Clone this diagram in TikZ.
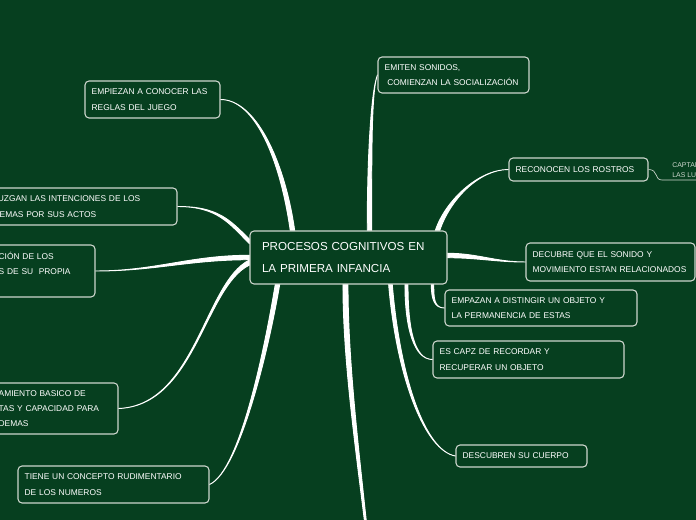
\documentclass[tikz,border=0pt]{standalone}
\usepackage{fontspec}
\setmainfont{Liberation Sans}
\usetikzlibrary{calc}
\definecolor{boardgreen}{RGB}{6,63,31}
\definecolor{chalkline}{RGB}{205,214,205}
\pgfdeclarelayer{back}
\pgfdeclarelayer{links}
\pgfsetlayers{back,links,main}
\tikzset{
    idea/.style={draw=chalkline, line width=0.8pt, fill=boardgreen, rounded corners=3pt,
        text=white, align=left, inner xsep=5pt, font=\fontsize{6.3}{11.5}\selectfont},
    link/.style={fill=white, draw=white, line width=0.7pt, line join=round},
    twig/.style={draw=chalkline, line width=0.5pt}
}
\newcommand{\branch}[5]{%
    \filldraw [link] ($(#1)+(#2)$) .. controls +(#4) and +(#5) .. (#3)
        .. controls +(#5) and +(#4) .. ($(#1)-(#2)$) -- cycle;}
\begin{document}
\begin{tikzpicture}[x=0.75pt, y=-0.75pt]
    \useasboundingbox (0, 0) rectangle (696, 520);
    \begin{pgfonlayer}{back}
        \fill [boardgreen] (0, 0) rectangle (696, 520);
    \end{pgfonlayer}
    % centre
    \node [idea, text width=129.75pt, inner xsep=9pt, minimum height=39.75pt,
        font=\fontsize{8.7}{16.5}\selectfont] (pc) at (348.5, 257.5)
        {PROCESOS COGNITIVOS EN\\LA PRIMERA INFANCIA};
    % left side
    \node [idea, text width=91.25pt, minimum height=27.75pt] (l1) at (152.5, 99.5)
        {EMPIEZAN A CONOCER LAS\\REGLAS DEL JUEGO};
    \node [idea, text width=132.5pt, minimum height=27.75pt] (l2) at (82, 206.5)
        {JUZGAN LAS INTENCIONES DE LOS\\DEMAS POR SUS ACTOS};
    \node [idea, text width=67.25pt, minimum height=39pt] (l3) at (43.5, 271)
        {CIÓN DE LOS\\S DE SU \ PROPIA\\\mbox{}};
    \node [idea, text width=84.5pt, minimum height=38.25pt] (l4) at (55, 408.5)
        {AMIENTO BASICO DE\\TAS Y CAPACIDAD PARA\\DEMAS};
    \node [idea, text width=133.25pt, minimum height=27.75pt] (l5) at (113.5, 484.5)
        {TIENE UN CONCEPTO RUDIMENTARIO\\DE LOS NUMEROS};
    % right side
    \node [idea, text width=103.25pt, minimum height=27pt] (r1) at (453.5, 75)
        {EMITEN SONIDOS,\\\hspace*{2pt}COMIENZAN LA SOCIALIZACIÓN};
    \node [idea, text width=94.25pt, minimum height=17.25pt] (r2) at (578.5, 169.5)
        {RECONOCEN LOS ROSTROS};
    \node [anchor=south west, inner xsep=7.5pt, inner ysep=1.5pt, align=left, text=chalkline,
        font=\fontsize{5.2}{7.5}\selectfont] (r3) at (662, 180) {CAPTAN\\LAS LU};
    \node [idea, text width=116.75pt, minimum height=28.5pt] (r4) at (610.5, 262)
        {DECUBRE QUE EL SONIDO Y\\MOVIMIENTO ESTAN RELACIONADOS};
    \node [idea, text width=134pt, minimum height=27pt] (r5) at (541, 308)
        {EMPAZAN A DISTINGIR UN OBJETO Y\\LA PERMANENCIA DE ESTAS};
    \node [idea, text width=133.25pt, minimum height=27.75pt] (r6) at (528.5, 359.5)
        {ES CAPZ DE RECORDAR Y\\RECUPERAR UN OBJETO};
    \node [idea, text width=88.25pt, minimum height=16.5pt] (r7) at (521.5, 456)
        {DESCUBREN SU CUERPO};
    % where the branches leave the centre
    \coordinate (s1) at ($(pc.north west)+(43, 0)$);
    \coordinate (s2) at ($(pc.west)+(0, -16)$);
    \coordinate (s4) at ($(pc.west)+(0, 5)$);
    \coordinate (s5) at ($(pc.south west)+(28, 0)$);
    \coordinate (s6) at ($(pc.north west)+(120, 0)$);
    \coordinate (s7) at ($(pc.north east)+(-10, 0)$);
    \coordinate (s8) at ($(pc.east)+(0, -2)$);
    \coordinate (s9) at ($(pc.south east)+(-15, 0)$);
    \coordinate (s10) at ($(pc.south west)+(157, 0)$);
    \coordinate (s11) at ($(pc.south west)+(141, 0)$);
    \coordinate (s12) at ($(pc.south west)+(96, 0)$);
    \coordinate (dn) at (382, 700);
    \begin{pgfonlayer}{links}
        \branch{s1}{2.2, 0}{l1.east}{-10, -70}{35, 0}
        \branch{s2}{0, 2.2}{l2.east}{-20, -20}{40, 0}
        \branch{pc.west}{0, 2.2}{l3.east}{-60, 0}{60, 0}
        \branch{s4}{0, 2.5}{l4.east}{-45, 22}{77, -3}
        \branch{s5}{2.2, 0}{l5.east}{-10, 60}{31, -14}
        \branch{s6}{2.2, 0}{r1.west}{0, -80}{-6, 15}
        \branch{s7}{2.2, 0}{r2.west}{10, -30}{-30, 0}
        \branch{s8}{0, 2.2}{r4.west}{30, 0}{-30, 0}
        \branch{s9}{1.2, 0}{r5.west}{0, 15}{-10, 0}
        \branch{s10}{1.5, 0}{r6.west}{0, 45}{-18, 0}
        \branch{s11}{1.8, 0}{r7.west}{8, 95}{-30, -5}
        \branch{s12}{2.5, 0}{dn}{0, 120}{-8, -150}
        \draw [twig] (r2.east) .. controls +(10, 0) and +(-8, 0) .. (r3.south west) -- (r3.south east);
    \end{pgfonlayer}
\end{tikzpicture}
\end{document}
